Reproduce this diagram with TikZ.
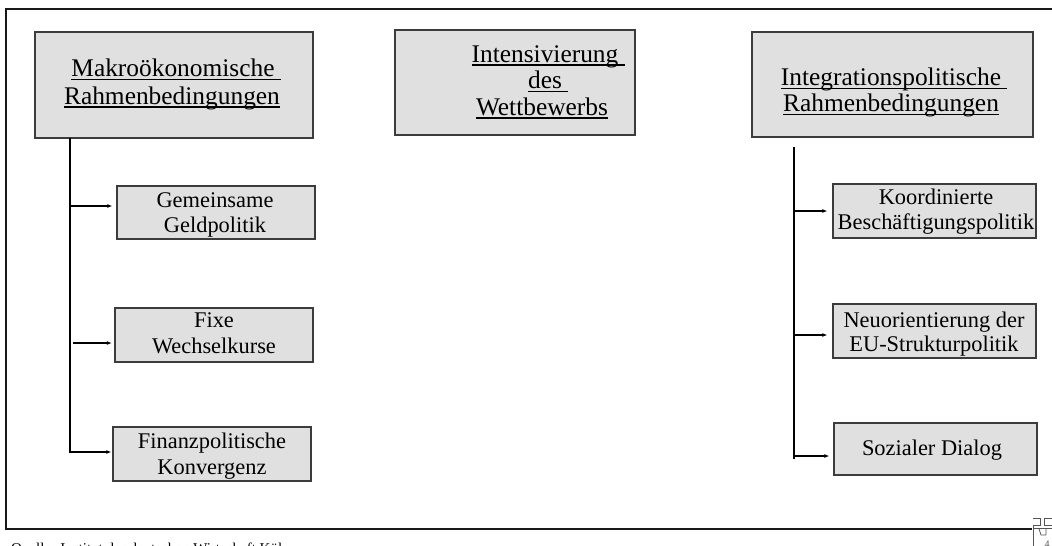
\documentclass[tikz,border=0pt]{standalone}
\usepackage{fontspec}
\setmainfont{Liberation Serif}
\usetikzlibrary{arrows.meta}
\definecolor{boxfill}{HTML}{E0E0E0}
\definecolor{boxline}{HTML}{3C3C3C}
\definecolor{iconline}{HTML}{555555}
\newcommand\ulx[2][0pt]{\setbox0\hbox{#2}\rlap{\rule[-3.6pt]{\dimexpr\wd0+#1\relax}{1.3pt}}\box0}
\begin{document}
\begin{tikzpicture}[x=1pt,y=-1pt,
  boxstyle/.style={draw=boxline, fill=boxfill, line width=1.3pt, inner sep=0pt},
  htext/.style={font=\fontsize{25.4}{27}\selectfont, inner sep=0pt, anchor=base},
  ctext/.style={font=\fontsize{22.4}{25}\selectfont, inner sep=0pt, anchor=base},
  conn/.style={draw=black, line width=1.4pt},
  arr/.style={draw=black, line width=1.2pt, -{Latex[length=5pt,width=4pt]}},
  frame/.style={draw=black!90, line width=2pt}
]
\useasboundingbox (0,0) rectangle (1052,546);
\clip (0,0) rectangle (1052,546);

% outer frame
\draw[frame] (1070,9) -- (6,9) -- (6,529) -- (1032,529);

% header boxes
\node[boxstyle, minimum width=278pt, minimum height=106pt] (b1) at (174,85) {};
\node[htext] (b1a) at (173,76.7) {\ulx[6.4pt]{Makroökonomische}};
\node[htext] (b1b) at (172,104) {\ulx{Rahmenbedingungen}};

\node[boxstyle, minimum width=240pt, minimum height=105pt] (b2) at (515,82.5) {};
\node[htext] (b2a) at (545,62) {\ulx[6.4pt]{Intensivierung}};
\node[htext] (b2b) at (545,88.5) {\ulx[6.4pt]{des}};
\node[htext] (b2c) at (542,115) {\ulx{Wettbewerbs}};

\node[boxstyle, minimum width=281pt, minimum height=105pt] (b3) at (892.5,84.5) {};
\node[htext] (b3a) at (891,85.5) {\ulx[6.4pt]{Integrationspolitische}};
\node[htext] (b3b) at (891,111.5) {\ulx{Rahmenbedingungen}};

% left children
\node[boxstyle, minimum width=198pt, minimum height=53pt] (g1) at (216,212.5) {};
\node[ctext] (g1a) at (215,207) {Gemeinsame};
\node[ctext] (g1b) at (215,232) {Geldpolitik};

\node[boxstyle, minimum width=198pt, minimum height=54pt] (g2) at (214,335) {};
\node[ctext] (g2a) at (214,327.5) {Fixe};
\node[ctext] (g2b) at (214,353) {Wechselkurse};

\node[boxstyle, minimum width=198pt, minimum height=54pt] (g3) at (212,454) {};
\node[ctext] (g3a) at (212,448) {Finanzpolitische};
\node[ctext] (g3b) at (212,474) {Konvergenz};

% right children
\node[boxstyle, minimum width=203pt, minimum height=54pt] (r1) at (934.5,211) {};
\node[ctext] (r1a) at (936,204.5) {Koordinierte};
\node[ctext] (r1b) at (936,229.5) {Beschäftigungspolitik};

\node[boxstyle, minimum width=203pt, minimum height=54pt] (r2) at (934.5,331) {};
\node[ctext] (r2a) at (934,327) {Neuorientierung der};
\node[ctext] (r2b) at (934,351.5) {EU-Strukturpolitik};

\node[boxstyle, minimum width=203pt, minimum height=52pt] (r3) at (935.5,449) {};
\node[ctext] (r3a) at (932,455.5) {Sozialer Dialog};

% left connectors
\coordinate (lt) at (70,138);
\coordinate (lb) at (70,453);
\coordinate (l1) at (70,206);
\coordinate (l2) at (73,343);
\coordinate (l3) at (70,452);
\draw[conn] (lt) -- (lb);
\draw[arr, shorten >=4pt] (l1) -- (l1 -| g1.west);
\draw[arr, shorten >=2.5pt] (l2) -- (l2 -| g2.west);
\draw[arr, shorten >=1pt] (l3) -- (l3 -| g3.west);

% right connectors
\coordinate (rt) at (794,147);
\coordinate (rb) at (794,459);
\coordinate (q1) at (794,211);
\coordinate (q2) at (794,335);
\coordinate (q3) at (794,456);
\draw[conn] (rt) -- (rb);
\draw[arr, shorten >=5pt] (q1) -- (q1 -| r1.west);
\draw[arr, shorten >=5pt] (q2) -- (q2 -| r2.west);
\draw[arr, shorten >=4pt] (q3) -- (q3 -| r3.west);

% footer text (cut off at bottom edge)
\node[font=\fontsize{15}{17}\selectfont, inner sep=0pt, anchor=base west] (src) at (11,553) {Quelle: Institut der deutschen Wirtschaft Köln};

% small logo / page mark at bottom right
\draw[iconline, line width=0.9pt] (1033,526) -- (1033,546);
\draw[iconline, line width=0.8pt] (1033,518) -- (1040,518) -- (1040,525) -- (1033,525);
\draw[iconline, line width=0.8pt] (1052,518) -- (1044,518) -- (1044,525) -- (1052,525);
\draw[iconline, line width=0.8pt] (1033,528) -- (1052,528);
\draw[iconline, line width=0.8pt] (1039,529) -- (1041,535) -- (1046,535) (1046,529) -- (1046,535);
\node[font=\fontsize{10}{12}\selectfont, text=iconline, inner sep=0pt, anchor=base] (pg) at (1047,547) {4};
\end{tikzpicture}
\end{document}
